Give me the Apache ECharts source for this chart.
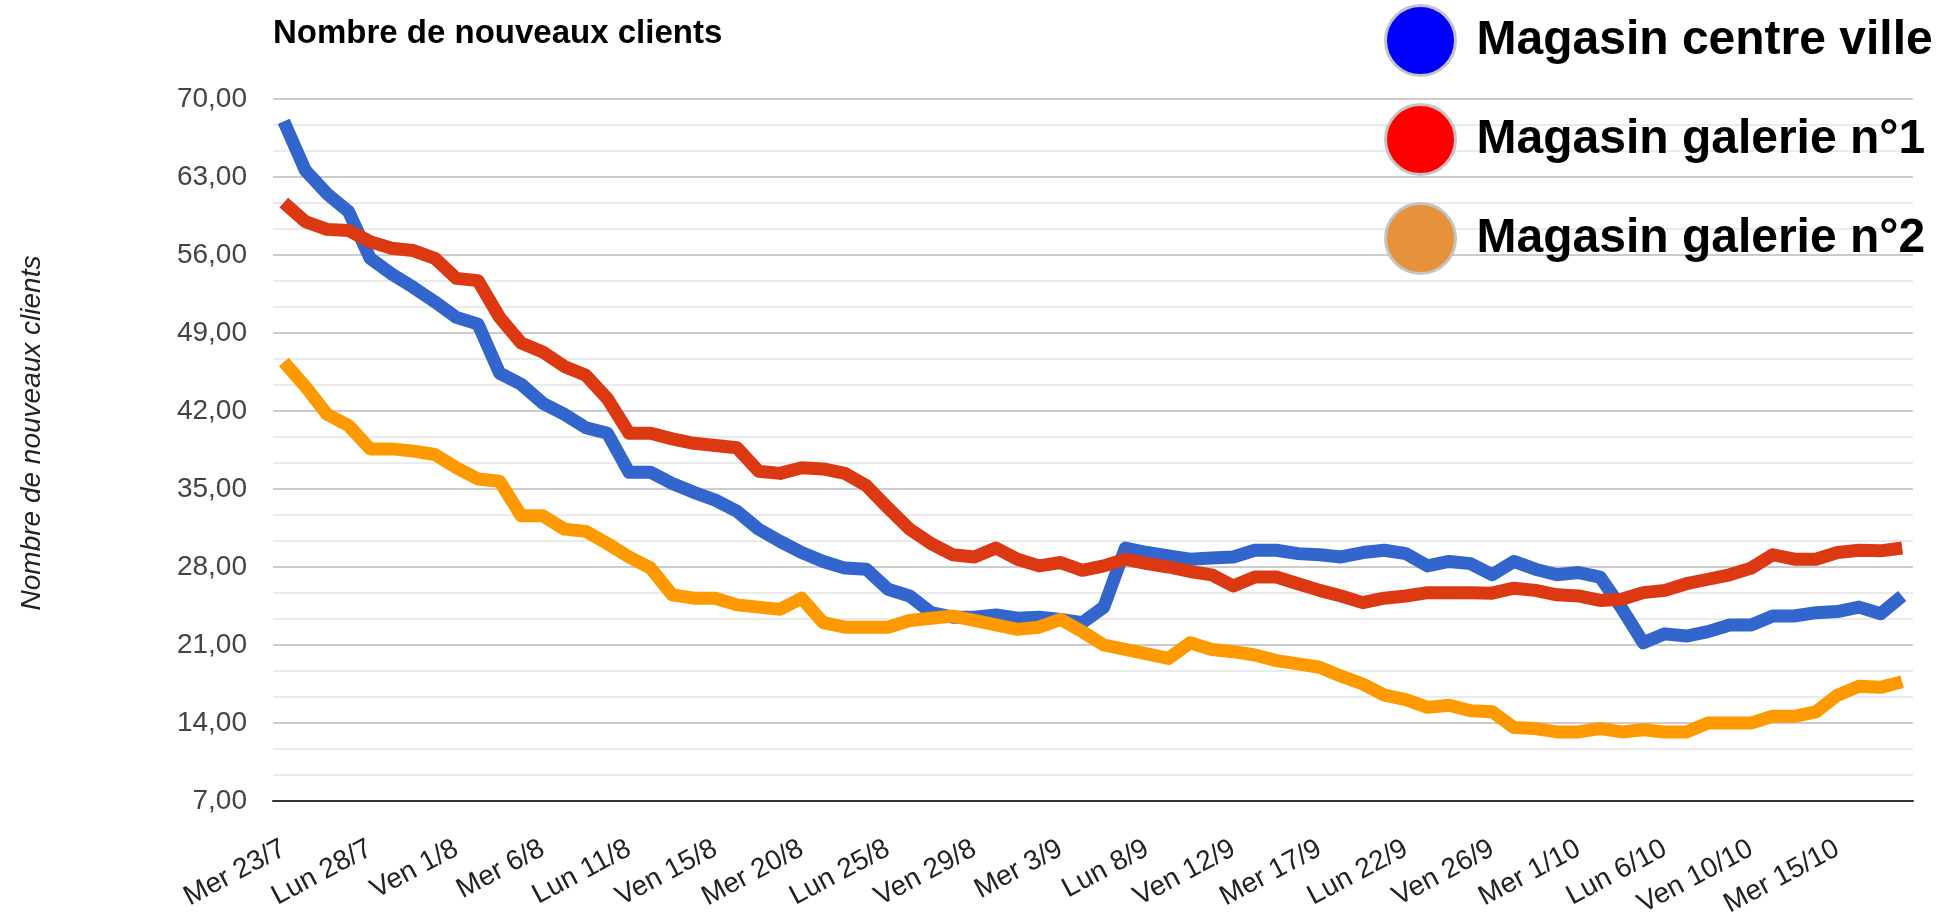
<!DOCTYPE html>
<html>
<head>
<meta charset="utf-8">
<script src="https://cdn.jsdelivr.net/npm/echarts@6/dist/echarts.min.js"></script>
<style>
html,body{margin:0;padding:0;background:#fff;}
#chart{width:1942px;height:921px;}
</style>
</head>
<body>
<div id="chart"></div>
<script>
// Categories: Mon–Sat, 23/7 to 18/10
const categories = [
  'Mer 23/7','Jeu 24/7','Ven 25/7','Sam 26/7','Lun 28/7','Mar 29/7','Mer 30/7','Jeu 31/7',
  'Ven 1/8','Sam 2/8','Lun 4/8','Mar 5/8','Mer 6/8','Jeu 7/8','Ven 8/8','Sam 9/8',
  'Lun 11/8','Mar 12/8','Mer 13/8','Jeu 14/8','Ven 15/8','Sam 16/8','Lun 18/8','Mar 19/8',
  'Mer 20/8','Jeu 21/8','Ven 22/8','Sam 23/8','Lun 25/8','Mar 26/8','Mer 27/8','Jeu 28/8',
  'Ven 29/8','Sam 30/8','Lun 1/9','Mar 2/9','Mer 3/9','Jeu 4/9','Ven 5/9','Sam 6/9',
  'Lun 8/9','Mar 9/9','Mer 10/9','Jeu 11/9','Ven 12/9','Sam 13/9','Lun 15/9','Mar 16/9',
  'Mer 17/9','Jeu 18/9','Ven 19/9','Sam 20/9','Lun 22/9','Mar 23/9','Mer 24/9','Jeu 25/9',
  'Ven 26/9','Sam 27/9','Lun 29/9','Mar 30/9','Mer 1/10','Jeu 2/10','Ven 3/10','Sam 4/10',
  'Lun 6/10','Mar 7/10','Mer 8/10','Jeu 9/10','Ven 10/10','Sam 11/10','Lun 13/10','Mar 14/10',
  'Mer 15/10','Jeu 16/10','Ven 17/10','Sam 18/10'
];

const centreVille = [
  68.0,63.6,61.5,59.9,55.7,54.3,53.1,51.8,50.4,49.8,45.4,44.4,42.7,41.7,40.5,40.0,
  36.5,36.5,35.5,34.7,34.0,33.0,31.4,30.3,29.3,28.5,27.9,27.8,26.0,25.4,23.9,23.5,
  23.5,23.7,23.4,23.5,23.3,23.0,24.4,29.7,29.3,29.0,28.7,28.8,28.9,29.5,29.5,29.2,
  29.1,28.9,29.3,29.5,29.2,28.1,28.5,28.3,27.3,28.5,27.8,27.3,27.5,27.1,24.3,21.2,
  22.0,21.8,22.2,22.8,22.8,23.6,23.6,23.9,24.0,24.4,23.8,25.4
];

const galerie1 = [
  60.7,59.0,58.3,58.2,57.2,56.6,56.4,55.7,53.9,53.7,50.4,48.1,47.3,46.0,45.2,43.1,
  40.0,40.0,39.5,39.1,38.9,38.7,36.6,36.4,36.9,36.8,36.4,35.3,33.3,31.4,30.1,29.1,
  28.9,29.7,28.7,28.1,28.4,27.7,28.1,28.7,28.3,28.0,27.6,27.3,26.3,27.1,27.1,26.5,
  25.9,25.4,24.8,25.2,25.4,25.7,25.7,25.7,25.65,26.1,25.9,25.5,25.4,25.0,25.1,25.7,
  25.9,26.5,26.9,27.3,27.9,29.1,28.7,28.7,29.3,29.5,29.45,29.7
];

const galerie2 = [
  46.4,44.2,41.7,40.7,38.6,38.6,38.4,38.1,36.9,35.9,35.7,32.6,32.6,31.4,31.2,30.1,
  28.9,27.9,25.5,25.2,25.2,24.6,24.4,24.2,25.2,23.0,22.6,22.6,22.6,23.2,23.4,23.6,
  23.2,22.8,22.4,22.6,23.3,22.2,21.0,20.6,20.2,19.8,21.2,20.6,20.4,20.1,19.6,19.3,
  19.0,18.2,17.5,16.5,16.1,15.4,15.6,15.1,15.0,13.6,13.5,13.2,13.2,13.5,13.2,13.4,
  13.2,13.2,14.0,14.0,14.0,14.6,14.6,15.0,16.5,17.3,17.2,17.7
];

const seriesNames = ['Magasin centre ville','Magasin galerie n°1','Magasin galerie n°2'];
const lineColors = ['#3366cc','#dc3912','#ff9900'];
const legendColors = ['#0000ff','#ff0000','#e6923a'];

const FONT = '"Liberation Sans", Arial, Helvetica, sans-serif';
const chart = echarts.init(document.getElementById('chart'), null, {renderer:'canvas'});

const seriesData = [centreVille, galerie1, galerie2];

chart.setOption({
  animation: false,
  backgroundColor: '#ffffff',
  title: {
    text: 'Nombre de nouveaux clients',
    left: 273, top: 17, padding: 0,
    textStyle: {fontFamily: FONT, fontSize: 33, fontWeight: 'bold', color: '#000'}
  },
  legend: {
    orient: 'vertical',
    left: 1384, top: 4, padding: 0,
    itemWidth: 70, itemHeight: 70, itemGap: 26,
    icon: 'circle',
    textStyle: {fontFamily: FONT, fontSize: 48, fontWeight: 'bold', color: '#000', padding: [0,0,0,16]},
    data: seriesNames.map((n, i) => ({
      name: n,
      itemStyle: {color: legendColors[i], borderColor: '#c4c4c4', borderWidth: 3}
    }))
  },
  grid: {left: 273, right: 29, top: 99, bottom: 120, containLabel: false},
  xAxis: {
    type: 'category',
    data: categories,
    boundaryGap: true,
    axisLine: {show: true, lineStyle: {color: '#333', width: 2}},
    axisTick: {show: false},
    axisLabel: {
      interval: 3, rotate: 28, margin: 46,
      fontFamily: FONT, fontSize: 28, color: '#222'
    },
    splitLine: {show: false}
  },
  yAxis: {
    type: 'value',
    min: 7, max: 70, interval: 7,
    name: 'Nombre de nouveaux clients',
    nameLocation: 'middle',
    nameGap: 227,
    nameTextStyle: {fontFamily: FONT, fontSize: 28, fontStyle: 'italic', color: '#222', padding: [0,0,0,34]},
    axisLine: {show: false},
    axisTick: {show: false},
    axisLabel: {
      margin: 26, fontFamily: FONT, fontSize: 28, color: '#444',
      formatter: v => v.toFixed(2).replace('.', ',')
    },
    splitLine: {show: true, lineStyle: {color: '#cccccc', width: 2}},
    minorTick: {show: false, splitNumber: 3},
    minorSplitLine: {show: true, lineStyle: {color: '#ebebeb', width: 2}}
  },
  series: seriesNames.map((n, i) => ({
    name: n,
    type: 'line',
    data: seriesData[i],
    showSymbol: false,
    symbol: 'none',
    color: lineColors[i],
    lineStyle: {width: 13, color: lineColors[i], join: 'round'}
  }))
});
</script>
</body>
</html>
